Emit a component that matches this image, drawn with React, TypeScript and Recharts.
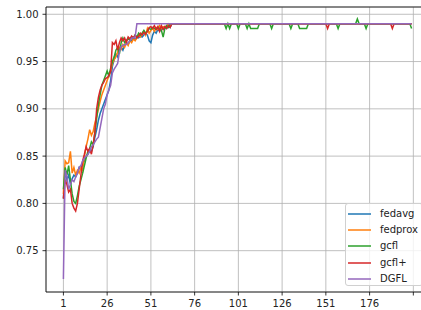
import React from 'react';
import { LineChart, Line, XAxis, YAxis, CartesianGrid, ReferenceLine, Legend } from 'recharts';

const fedavg: number[] = [
  0.805, 0.835, 0.825, 0.83, 0.82, 0.826, 0.83, 0.828, 0.832, 0.838,
  0.836, 0.842, 0.845, 0.85, 0.852, 0.856, 0.855, 0.86, 0.87, 0.878,
  0.888, 0.895, 0.9, 0.905, 0.91, 0.915, 0.92, 0.93, 0.945, 0.952,
  0.958, 0.955, 0.962, 0.965, 0.962, 0.967, 0.97, 0.968, 0.972, 0.972,
  0.975, 0.973, 0.976, 0.975, 0.977, 0.976, 0.978, 0.98, 0.978, 0.972,
  0.97, 0.978, 0.982, 0.98, 0.984, 0.982, 0.985, 0.984, 0.986, 0.985,
  0.988, 0.986, 0.99, 0.99, 0.99, 0.99, 0.99, 0.99, 0.99, 0.99,
  0.99, 0.99, 0.99, 0.99, 0.99, 0.99, 0.99, 0.99, 0.99, 0.99,
  0.99, 0.99, 0.99, 0.99, 0.99, 0.99, 0.99, 0.99, 0.99, 0.99,
  0.99, 0.99, 0.99, 0.99, 0.99, 0.99, 0.99, 0.99, 0.99, 0.99,
  0.99, 0.99, 0.99, 0.99, 0.99, 0.99, 0.99, 0.99, 0.99, 0.99,
  0.99, 0.99, 0.99, 0.99, 0.99, 0.99, 0.99, 0.99, 0.99, 0.99,
  0.99, 0.99, 0.99, 0.99, 0.99, 0.99, 0.99, 0.99, 0.99, 0.99,
  0.99, 0.99, 0.99, 0.99, 0.99, 0.99, 0.99, 0.99, 0.99, 0.99,
  0.99, 0.99, 0.99, 0.99, 0.99, 0.99, 0.99, 0.99, 0.99, 0.99,
  0.99, 0.99, 0.99, 0.99, 0.99, 0.99, 0.99, 0.99, 0.99, 0.99,
  0.99, 0.99, 0.99, 0.99, 0.99, 0.99, 0.99, 0.99, 0.99, 0.99,
  0.99, 0.99, 0.99, 0.99, 0.99, 0.99, 0.99, 0.99, 0.99, 0.99,
  0.99, 0.99, 0.99, 0.99, 0.99, 0.99, 0.99, 0.99, 0.99, 0.99,
  0.99, 0.99, 0.99, 0.99, 0.99, 0.99, 0.99, 0.99, 0.99, 0.99,
];

const fedprox: number[] = [
  0.81, 0.845, 0.842, 0.843, 0.855, 0.832, 0.838, 0.83, 0.835, 0.832,
  0.838, 0.835, 0.85, 0.86, 0.868, 0.878, 0.872, 0.876, 0.885, 0.892,
  0.9, 0.908, 0.915, 0.92, 0.925, 0.93, 0.935, 0.94, 0.948, 0.952,
  0.955, 0.96, 0.965, 0.963, 0.968, 0.965, 0.97, 0.967, 0.972, 0.97,
  0.974, 0.972, 0.975, 0.978, 0.976, 0.98, 0.982, 0.978, 0.985, 0.98,
  0.983, 0.985, 0.982, 0.986, 0.984, 0.988, 0.985, 0.987, 0.986, 0.988,
  0.99, 0.988, 0.99, 0.99, 0.99, 0.99, 0.99, 0.99, 0.99, 0.99,
  0.99, 0.99, 0.99, 0.99, 0.99, 0.99, 0.99, 0.99, 0.99, 0.99,
  0.99, 0.99, 0.99, 0.99, 0.99, 0.99, 0.99, 0.99, 0.99, 0.99,
  0.99, 0.99, 0.99, 0.99, 0.99, 0.99, 0.99, 0.99, 0.99, 0.99,
  0.99, 0.99, 0.99, 0.99, 0.99, 0.99, 0.99, 0.99, 0.99, 0.99,
  0.99, 0.99, 0.99, 0.99, 0.99, 0.99, 0.99, 0.99, 0.99, 0.99,
  0.99, 0.99, 0.99, 0.99, 0.99, 0.99, 0.99, 0.99, 0.99, 0.99,
  0.99, 0.99, 0.99, 0.99, 0.99, 0.99, 0.99, 0.99, 0.99, 0.99,
  0.99, 0.99, 0.99, 0.99, 0.99, 0.99, 0.99, 0.99, 0.99, 0.99,
  0.99, 0.99, 0.99, 0.99, 0.99, 0.99, 0.99, 0.99, 0.99, 0.99,
  0.99, 0.99, 0.99, 0.99, 0.99, 0.99, 0.99, 0.99, 0.99, 0.99,
  0.99, 0.99, 0.99, 0.99, 0.99, 0.99, 0.99, 0.99, 0.99, 0.99,
  0.99, 0.99, 0.99, 0.99, 0.99, 0.99, 0.99, 0.99, 0.99, 0.99,
  0.99, 0.99, 0.99, 0.99, 0.99, 0.99, 0.99, 0.99, 0.99, 0.99,
];

const gcfl: number[] = [
  0.815, 0.838, 0.83, 0.84, 0.825, 0.81, 0.802, 0.8, 0.808, 0.818,
  0.825, 0.832, 0.84, 0.848, 0.855, 0.858, 0.865, 0.862, 0.875, 0.89,
  0.905, 0.915, 0.925, 0.93, 0.935, 0.94, 0.935, 0.943, 0.95, 0.955,
  0.962, 0.965, 0.958, 0.97, 0.975, 0.97, 0.972, 0.975, 0.972, 0.976,
  0.975, 0.978, 0.976, 0.98, 0.978, 0.98, 0.983, 0.98, 0.982, 0.985,
  0.984, 0.986, 0.985, 0.984, 0.986, 0.985, 0.983, 0.976, 0.985, 0.988,
  0.986, 0.99, 0.99, 0.99, 0.99, 0.99, 0.99, 0.99, 0.99, 0.99,
  0.99, 0.99, 0.99, 0.99, 0.99, 0.99, 0.99, 0.99, 0.99, 0.99,
  0.99, 0.99, 0.99, 0.99, 0.99, 0.99, 0.99, 0.99, 0.99, 0.99,
  0.99, 0.99, 0.99, 0.985, 0.99, 0.985, 0.99, 0.99, 0.99, 0.99,
  0.985, 0.99, 0.99, 0.99, 0.99, 0.985, 0.99, 0.985, 0.985, 0.985,
  0.985, 0.985, 0.99, 0.99, 0.99, 0.99, 0.99, 0.99, 0.99, 0.985,
  0.99, 0.99, 0.99, 0.99, 0.99, 0.99, 0.99, 0.99, 0.99, 0.99,
  0.985, 0.99, 0.99, 0.99, 0.99, 0.985, 0.985, 0.985, 0.985, 0.985,
  0.99, 0.99, 0.99, 0.99, 0.99, 0.99, 0.99, 0.99, 0.99, 0.99,
  0.99, 0.99, 0.99, 0.99, 0.99, 0.99, 0.99, 0.985, 0.99, 0.99,
  0.99, 0.99, 0.99, 0.99, 0.99, 0.99, 0.99, 0.99, 0.995, 0.99,
  0.99, 0.99, 0.99, 0.985, 0.99, 0.99, 0.99, 0.99, 0.99, 0.99,
  0.99, 0.99, 0.99, 0.99, 0.99, 0.99, 0.99, 0.99, 0.99, 0.99,
  0.99, 0.99, 0.99, 0.99, 0.99, 0.99, 0.99, 0.99, 0.99, 0.985,
];

const gcflPlus: number[] = [
  0.805, 0.825, 0.82, 0.812, 0.815, 0.8, 0.795, 0.792, 0.8, 0.815,
  0.83, 0.845, 0.852, 0.86, 0.855, 0.858, 0.852, 0.862, 0.875, 0.9,
  0.912, 0.92, 0.925, 0.928, 0.932, 0.933, 0.935, 0.94, 0.97, 0.968,
  0.972, 0.962, 0.97, 0.975, 0.972, 0.975, 0.97, 0.976, 0.974, 0.977,
  0.975, 0.978, 0.975, 0.977, 0.98, 0.978, 0.981, 0.979, 0.982, 0.986,
  0.987, 0.985, 0.988, 0.984, 0.987, 0.982, 0.988, 0.984, 0.987, 0.985,
  0.988, 0.986, 0.99, 0.99, 0.99, 0.99, 0.99, 0.99, 0.99, 0.99,
  0.99, 0.99, 0.99, 0.99, 0.99, 0.99, 0.99, 0.99, 0.99, 0.99,
  0.99, 0.99, 0.99, 0.99, 0.99, 0.99, 0.99, 0.99, 0.99, 0.99,
  0.99, 0.99, 0.99, 0.99, 0.99, 0.99, 0.99, 0.99, 0.99, 0.99,
  0.99, 0.99, 0.99, 0.99, 0.99, 0.99, 0.99, 0.99, 0.99, 0.99,
  0.99, 0.99, 0.99, 0.99, 0.99, 0.99, 0.99, 0.99, 0.99, 0.99,
  0.99, 0.99, 0.99, 0.99, 0.99, 0.99, 0.99, 0.99, 0.99, 0.99,
  0.99, 0.99, 0.99, 0.99, 0.99, 0.99, 0.99, 0.99, 0.99, 0.99,
  0.99, 0.99, 0.99, 0.99, 0.99, 0.99, 0.99, 0.99, 0.99, 0.99,
  0.99, 0.985, 0.99, 0.99, 0.99, 0.99, 0.99, 0.99, 0.99, 0.99,
  0.99, 0.99, 0.99, 0.99, 0.99, 0.99, 0.99, 0.99, 0.99, 0.99,
  0.99, 0.99, 0.99, 0.99, 0.99, 0.99, 0.99, 0.99, 0.99, 0.99,
  0.99, 0.99, 0.99, 0.99, 0.99, 0.99, 0.99, 0.99, 0.985, 0.99,
  0.99, 0.99, 0.99, 0.99, 0.99, 0.99, 0.99, 0.99, 0.99, 0.99,
];

const dgfl: number[] = [
  0.72, 0.835, 0.828, 0.815, 0.82, 0.825, 0.823, 0.828, 0.832, 0.838,
  0.84, 0.845, 0.848, 0.85, 0.852, 0.855, 0.86, 0.862, 0.865, 0.868,
  0.87, 0.88, 0.89, 0.9, 0.905, 0.915, 0.92, 0.925, 0.938, 0.942,
  0.945, 0.948, 0.96, 0.966, 0.967, 0.968, 0.968, 0.97, 0.972, 0.975,
  0.975, 0.976, 0.99, 0.99, 0.99, 0.99, 0.99, 0.99, 0.99, 0.99,
  0.99, 0.99, 0.99, 0.99, 0.99, 0.99, 0.99, 0.99, 0.99, 0.99,
  0.99, 0.99, 0.99, 0.99, 0.99, 0.99, 0.99, 0.99, 0.99, 0.99,
  0.99, 0.99, 0.99, 0.99, 0.99, 0.99, 0.99, 0.99, 0.99, 0.99,
  0.99, 0.99, 0.99, 0.99, 0.99, 0.99, 0.99, 0.99, 0.99, 0.99,
  0.99, 0.99, 0.99, 0.99, 0.99, 0.99, 0.99, 0.99, 0.99, 0.99,
  0.99, 0.99, 0.99, 0.99, 0.99, 0.99, 0.99, 0.99, 0.99, 0.99,
  0.99, 0.99, 0.99, 0.99, 0.99, 0.99, 0.99, 0.99, 0.99, 0.99,
  0.99, 0.99, 0.99, 0.99, 0.99, 0.99, 0.99, 0.99, 0.99, 0.99,
  0.99, 0.99, 0.99, 0.99, 0.99, 0.99, 0.99, 0.99, 0.99, 0.99,
  0.99, 0.99, 0.99, 0.99, 0.99, 0.99, 0.99, 0.99, 0.99, 0.99,
  0.99, 0.99, 0.99, 0.99, 0.99, 0.99, 0.99, 0.99, 0.99, 0.99,
  0.99, 0.99, 0.99, 0.99, 0.99, 0.99, 0.99, 0.99, 0.99, 0.99,
  0.99, 0.99, 0.99, 0.99, 0.99, 0.99, 0.99, 0.99, 0.99, 0.99,
  0.99, 0.99, 0.99, 0.99, 0.99, 0.99, 0.99, 0.99, 0.99, 0.99,
  0.99, 0.99, 0.99, 0.99, 0.99, 0.99, 0.99, 0.99, 0.99, 0.99,
];

const xTicks = [1, 26, 51, 76, 101, 126, 151, 176, 201];
const yTicks = [0.75, 0.8, 0.85, 0.9, 0.95, 1.0];
const seriesNames = ['fedavg', 'fedprox', 'gcfl', 'gcfl+', 'DGFL'];
const seriesColors = ['#1f77b4', '#ff7f0e', '#2ca02c', '#d62728', '#9467bd'];
const seriesValues = [fedavg, fedprox, gcfl, gcflPlus, dgfl];

const X_MIN = -8.95;
const X_MAX = 209.95;
const Y_MIN = 0.7063;
const Y_MAX = 1.0077;

const data = fedavg.map((_, i) => {
  const row: Record<string, number> = { round: i + 1 };
  seriesNames.forEach((n, k) => {
    row[n] = seriesValues[k][i];
  });
  return row;
});

const FONT = 'DejaVu Sans, sans-serif';

const LegendBox = () => (
  <div
    style={{
      width: 78,
      height: 83,
      boxSizing: 'border-box',
      background: 'rgba(255,255,255,0.8)',
      border: '1px solid #d0d0d0',
      borderRadius: 3,
      fontFamily: FONT,
      fontSize: 10,
      color: '#222',
      paddingTop: 2,
    }}
  >
    {seriesNames.map((n, k) => (
      <div key={n} style={{ display: 'flex', alignItems: 'center', height: 16.2 }}>
        <svg width={34} height={10} style={{ display: 'block' }}>
          <line x1={2} y1={5} x2={25} y2={5} stroke={seriesColors[k]} strokeWidth={1.5} />
        </svg>
        <span style={{ lineHeight: '10px' }}>{n}</span>
      </div>
    ))}
  </div>
);

export default function App() {
  return (
    <div style={{ position: 'absolute', left: 0, top: 0, width: 421, height: 310, overflow: 'hidden', background: '#fff' }}>
      <LineChart
        width={440}
        height={310}
        data={data}
        margin={{ top: 7, right: 11, left: 0, bottom: 0 }}
      >
        <CartesianGrid stroke="#b0b0b0" strokeWidth={0.8} vertical horizontal />
        <XAxis
          dataKey="round"
          type="number"
          domain={[X_MIN, X_MAX]}
          ticks={xTicks}
          allowDataOverflow
          tickFormatter={(v: number) => (v === 201 ? '' : String(v))}
          height={18}
          tickSize={3.5}
          tickMargin={4.5}
          tick={{ fontSize: 10, fill: '#222', fontFamily: FONT }}
          axisLine={{ stroke: '#000', strokeWidth: 0.8 }}
          tickLine={{ stroke: '#000', strokeWidth: 0.8 }}
        />
        <YAxis
          type="number"
          domain={[Y_MIN, Y_MAX]}
          ticks={yTicks}
          allowDataOverflow
          tickFormatter={(v: number) => v.toFixed(2)}
          width={46}
          tickSize={3.5}
          tickMargin={4}
          tick={{ fontSize: 10, fill: '#222', fontFamily: FONT }}
          axisLine={{ stroke: '#000', strokeWidth: 0.8 }}
          tickLine={{ stroke: '#000', strokeWidth: 0.8 }}
        />
        <ReferenceLine y={Y_MAX} stroke="#000" strokeWidth={0.8} />
        <ReferenceLine x={X_MAX} stroke="#000" strokeWidth={0.8} />
        {seriesNames.map((n, k) => (
          <Line
            key={n}
            type="linear"
            dataKey={n}
            stroke={seriesColors[k]}
            strokeWidth={1.5}
            dot={false}
            isAnimationActive={false}
          />
        ))}
        <Legend
          layout="vertical"
          align="center"
          verticalAlign="middle"
          content={() => <LegendBox />}
          wrapperStyle={{ position: 'absolute', left: 345, top: 203, width: 78, height: 83 }}
        />
      </LineChart>
    </div>
  );
}
